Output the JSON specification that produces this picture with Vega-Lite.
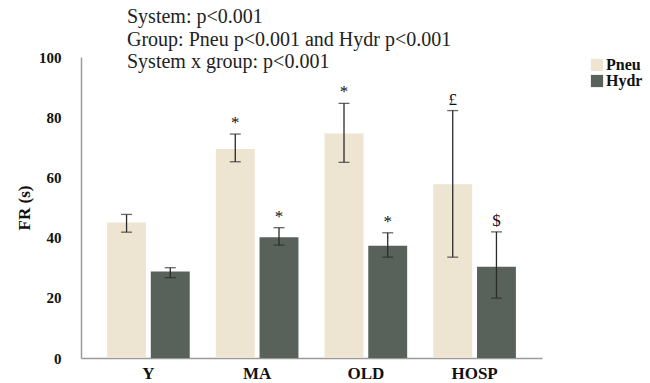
{
  "$schema": "https://vega.github.io/schema/vega-lite/v6.json",
  "width": 461,
  "height": 301,
  "autosize": {"type": "none"},
  "padding": {"left": 81, "top": 57, "right": 108, "bottom": 25},
  "background": "white",
  "title": {
    "text": ["System: p<0.001", "Group: Pneu p<0.001  and Hydr p<0.001", "System x group: p<0.001"],
    "font": "Liberation Serif",
    "fontSize": 20,
    "fontWeight": "normal",
    "color": "#222222",
    "anchor": "start",
    "frame": "group",
    "baseline": "bottom",
    "lineHeight": 22.5,
    "dx": 46,
    "offset": -42
  },
  "config": {
    "view": {"stroke": null},
    "font": "Liberation Serif"
  },
  "data": {
    "values": [
      {"group": "Y", "sys": "Pneu", "mean": 45.0, "lo": 41.8, "hi": 47.7, "sig": ""},
      {"group": "Y", "sys": "Hydr", "mean": 28.7, "lo": 26.7, "hi": 30.0, "sig": ""},
      {"group": "MA", "sys": "Pneu", "mean": 69.4, "lo": 65.2, "hi": 74.4, "sig": "*"},
      {"group": "MA", "sys": "Hydr", "mean": 40.1, "lo": 37.5, "hi": 43.3, "sig": "*"},
      {"group": "OLD", "sys": "Pneu", "mean": 74.6, "lo": 65.0, "hi": 84.6, "sig": "*"},
      {"group": "OLD", "sys": "Hydr", "mean": 37.3, "lo": 33.5, "hi": 41.6, "sig": "*"},
      {"group": "HOSP", "sys": "Pneu", "mean": 57.7, "lo": 33.5, "hi": 82.2, "sig": "£"},
      {"group": "HOSP", "sys": "Hydr", "mean": 30.3, "lo": 19.9, "hi": 41.9, "sig": "$"}
    ]
  },
  "encoding": {
    "x": {
      "field": "group",
      "type": "nominal",
      "sort": ["Y", "MA", "OLD", "HOSP"],
      "scale": {"paddingInner": 0.24, "paddingOuter": 0.24},
      "axis": {
        "title": null,
        "labelAngle": 0,
        "ticks": false,
        "labelPadding": 7,
        "labelFont": "Liberation Serif",
        "labelFontSize": 17,
        "labelFontWeight": "bold",
        "labelColor": "#111111",
        "domainColor": "#9a9a9a",
        "domainWidth": 1.5
      }
    },
    "xOffset": {
      "field": "sys",
      "type": "nominal",
      "sort": ["Pneu", "Hydr"],
      "scale": {"paddingInner": 0.11, "paddingOuter": 0}
    }
  },
  "layer": [
    {
      "mark": {"type": "bar"},
      "encoding": {
        "y": {
          "field": "mean",
          "type": "quantitative",
          "scale": {"domain": [0, 100], "nice": false},
          "axis": {
            "title": "FR (s)",
            "titleFont": "Liberation Serif",
            "titleFontSize": 17,
            "titleFontWeight": "bold",
            "titleColor": "#111111",
            "titlePadding": 5,
            "values": [0, 20, 40, 60, 80, 100],
            "grid": false,
            "ticks": false,
            "labelPadding": 20,
            "labelFont": "Liberation Serif",
            "labelFontSize": 15,
            "labelFontWeight": "bold",
            "labelColor": "#111111",
            "domainColor": "#9a9a9a",
            "domainWidth": 1.5
          }
        },
        "color": {
          "field": "sys",
          "type": "nominal",
          "sort": ["Pneu", "Hydr"],
          "scale": {"domain": ["Pneu", "Hydr"], "range": ["#EEE4D2", "#58625B"]},
          "legend": {
            "title": null,
            "orient": "none",
            "legendX": 508,
            "legendY": 0,
            "symbolType": "square",
            "symbolSize": 150,
            "symbolStrokeWidth": 0,
            "symbolOpacity": 1,
            "labelFont": "Liberation Serif",
            "labelFontSize": 16,
            "labelFontWeight": "bold",
            "labelColor": "#111111",
            "labelOffset": 1,
            "rowPadding": -1
          }
        }
      }
    },
    {
      "mark": {"type": "rule", "color": "#2a2a2a", "strokeWidth": 1.3},
      "encoding": {
        "y": {"field": "lo", "type": "quantitative"},
        "y2": {"field": "hi"}
      }
    },
    {
      "mark": {"type": "tick", "color": "#2a2a2a", "size": 11, "thickness": 1.3},
      "encoding": {
        "y": {"field": "lo", "type": "quantitative"}
      }
    },
    {
      "mark": {"type": "tick", "color": "#2a2a2a", "size": 11, "thickness": 1.3},
      "encoding": {
        "y": {"field": "hi", "type": "quantitative"}
      }
    },
    {
      "mark": {"type": "text", "font": "Liberation Serif", "fontSize": 17, "baseline": "bottom", "dy": -2, "fill": "#111111", "color": "#111111"},
      "encoding": {
        "y": {"field": "hi", "type": "quantitative"},
        "text": {"field": "sig"}
      }
    }
  ]
}
